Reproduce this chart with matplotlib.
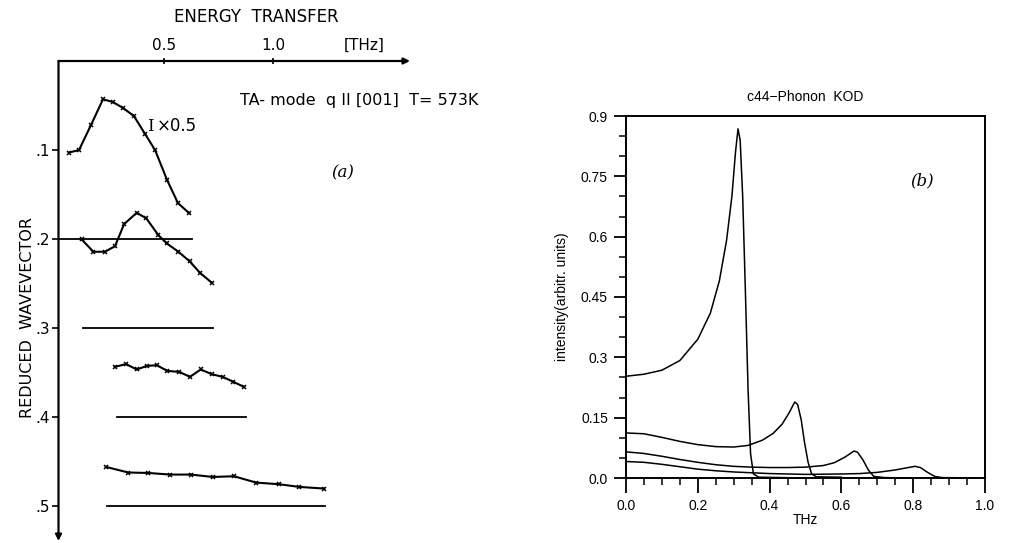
import matplotlib.pyplot as plt
from matplotlib.ticker import MultipleLocator

# ---- panel (a): scans, energy transfer [THz] vs. reduced wavevector ----
e_scan1 = [0.064, 0.110, 0.165, 0.220, 0.266, 0.312, 0.362, 0.413, 0.459, 0.514, 0.564, 0.615]
q_scan1 = [0.1028, 0.1000, 0.0719, 0.0430, 0.0461, 0.0528, 0.0618, 0.0820, 0.1000, 0.1337, 0.1596, 0.1708]

e_scan2 = [0.122, 0.176, 0.229, 0.275, 0.317, 0.375, 0.419, 0.474, 0.512, 0.566, 0.618, 0.665, 0.719]
q_scan2 = [0.2003, 0.2142, 0.2142, 0.2079, 0.1831, 0.1704, 0.1768, 0.1955, 0.2048, 0.2142, 0.2251, 0.2379, 0.2490]

e_scan4 = [0.275, 0.326, 0.375, 0.421, 0.467, 0.515, 0.570, 0.619, 0.668, 0.719, 0.769, 0.818, 0.867]
q_scan4 = [0.3434, 0.3404, 0.3464, 0.3424, 0.3416, 0.3480, 0.3491, 0.3547, 0.3464, 0.3517, 0.3547, 0.3603, 0.3660]

e_scan5 = [0.234, 0.336, 0.428, 0.528, 0.624, 0.723, 0.821, 0.922, 1.029, 1.121, 1.234]
q_scan5 = [0.4558, 0.4621, 0.4626, 0.4644, 0.4644, 0.4671, 0.4663, 0.4734, 0.4753, 0.4783, 0.4801]

base_q = [0.2, 0.3, 0.4, 0.5]
base_start = [0.016, 0.128, 0.284, 0.239]
base_end = [0.628, 0.725, 0.876, 1.239]

q_ticks = [0.1, 0.2, 0.3, 0.4, 0.5]
q_labels = ['.1', '.2', '.3', '.4', '.5']
e_ticks = [0.5, 1.0]
e_labels = ['0.5', '1.0']

# ---- panel (b): c44 phonon intensity ----
thz_1 = [0.0, 0.05, 0.10, 0.15, 0.20, 0.235, 0.26, 0.28, 0.295, 0.305, 0.312, 0.318, 0.325, 0.333, 0.340, 0.347, 0.355, 0.37, 0.5, 0.7]
int_1 = [0.253, 0.258, 0.268, 0.292, 0.345, 0.41, 0.49, 0.59, 0.70, 0.81, 0.868, 0.84, 0.70, 0.45, 0.22, 0.06, 0.01, 0.002, 0.0, 0.0]

thz_2 = [0.0, 0.05, 0.10, 0.15, 0.20, 0.25, 0.30, 0.34, 0.38, 0.41, 0.435, 0.455, 0.470, 0.478, 0.488, 0.497, 0.507, 0.517, 0.53, 0.6]
int_2 = [0.112, 0.110, 0.101, 0.091, 0.083, 0.078, 0.077, 0.081, 0.094, 0.111, 0.134, 0.163, 0.189, 0.183, 0.145, 0.090, 0.040, 0.010, 0.003, 0.002]

thz_3 = [0.0, 0.05, 0.10, 0.15, 0.20, 0.25, 0.30, 0.35, 0.40, 0.45, 0.50, 0.55, 0.58, 0.61, 0.635, 0.645, 0.66, 0.675, 0.69, 0.72, 0.8]
int_3 = [0.065, 0.061, 0.054, 0.046, 0.039, 0.033, 0.029, 0.027, 0.026, 0.026, 0.027, 0.031, 0.038, 0.052, 0.067, 0.064, 0.045, 0.020, 0.004, 0.001, 0.0]

thz_4 = [0.0, 0.05, 0.10, 0.15, 0.20, 0.25, 0.30, 0.35, 0.40, 0.50, 0.60, 0.65, 0.70, 0.75, 0.78, 0.805, 0.82, 0.84, 0.86, 0.88, 0.98]
int_4 = [0.041, 0.039, 0.034, 0.028, 0.022, 0.018, 0.015, 0.013, 0.011, 0.009, 0.010, 0.011, 0.014, 0.020, 0.025, 0.029, 0.026, 0.014, 0.004, 0.001, 0.0]

b_yticks = [0.0, 0.15, 0.3, 0.45, 0.6, 0.75, 0.9]
b_ylabels = ['0.0', '0.15', '0.3', '0.45', '0.6', '0.75', '0.9']
b_xticks = [0.0, 0.2, 0.4, 0.6, 0.8, 1.0]
b_xlabels = ['0.0', '0.2', '0.4', '0.6', '0.8', '1.0']

W, H = 1009, 543
fig = plt.figure(figsize=(W / 100, H / 100), dpi=100)

def px(x, y):
    return x / W, 1 - y / H

# ------------------------------------------------------------ panel (a)
cond = dict(family='DejaVu Sans')
ax = fig.add_axes([58.5 / W, 1 - 541 / H, (410 - 58.5) / W, (541 - 61) / H])
ax.set_xlim(0.016, 1.628)
ax.set_ylim(0.539, 0.0)
for s in ax.spines.values():
    s.set_visible(False)

ax.annotate('', xy=(1, 1), xytext=(0, 1), xycoords='axes fraction',
            arrowprops=dict(arrowstyle='-|>', color='k', lw=1.6, mutation_scale=9,
                            shrinkA=0, shrinkB=0))
ax.annotate('', xy=(0, 0), xytext=(0, 1), xycoords='axes fraction',
            arrowprops=dict(arrowstyle='-|>', color='k', lw=1.6, mutation_scale=9,
                            shrinkA=0, shrinkB=0))

ax.xaxis.tick_top()
ax.set_xticks(e_ticks, labels=e_labels)
ax.set_yticks(q_ticks, labels=q_labels)
ax.tick_params(axis='x', direction='inout', length=5, width=1.2, pad=3, labelsize=11)
ax.tick_params(axis='y', direction='out', length=5, width=1.2, pad=1, labelsize=11)

for q, a, b in zip(base_q, base_start, base_end):
    ax.plot([a, b], [q, q], color='k', lw=1.3)

for e, q in [(e_scan1, q_scan1), (e_scan2, q_scan2), (e_scan4, q_scan4), (e_scan5, q_scan5)]:
    ax.plot(e, q, color='k', lw=1.5, marker='x', ms=3.5, mew=1.1)

ax.annotate('[THz]', xy=(1.42, 1.0), xycoords=('data', 'axes fraction'),
            xytext=(0, 11), textcoords='offset points', ha='center', va='center',
            fontsize=11, **cond)
ax.text(0.42, 0.073, 'I', fontsize=12, va='center', ha='left', family='DejaVu Serif')
ax.text(0.465, 0.073, '\u00d70.5', fontsize=12, va='center', ha='left', **cond)
ax.text(1.32, 0.126, '(a)', fontsize=12, style='italic', family='DejaVu Serif',
        ha='center', va='center')

fig.text(*px(256, 17), 'ENERGY  TRANSFER', ha='center', va='center', fontsize=12, **cond)
fig.text(*px(240, 100), 'TA- mode  q II [001]  T= 573K', ha='left', va='center',
         fontsize=11.5, **cond)
fig.text(*px(28, 318), 'REDUCED  WAVEVECTOR', rotation=90, ha='center', va='center',
         fontsize=11.5, **cond)

# ------------------------------------------------------------ panel (b)
bx = fig.add_axes([626 / W, 1 - 478 / H, 359 / W, 362 / H])
for c_x, c_y in [(thz_1, int_1), (thz_2, int_2), (thz_3, int_3), (thz_4, int_4)]:
    bx.plot(c_x, c_y, color='k', lw=1.1)

bx.set_xlim(0, 1.0)
bx.set_ylim(0, 0.9)
bx.set_xticks(b_xticks, labels=b_xlabels)
bx.set_yticks(b_yticks, labels=b_ylabels)
bx.xaxis.set_minor_locator(MultipleLocator(0.05))
bx.yaxis.set_minor_locator(MultipleLocator(0.05))
bx.tick_params(which='major', direction='out', length=9, width=1.3, labelsize=10, pad=4)
bx.tick_params(which='minor', direction='out', length=5, width=1.1)
bx.tick_params(axis='x', which='major', length=11)
for s in bx.spines.values():
    s.set_linewidth(1.4)
for lab in bx.get_xticklabels() + bx.get_yticklabels():
    lab.set_family('Liberation Sans')

bx.set_title('c44\u2212Phonon  KOD', fontsize=10, family='Liberation Sans', pad=11)
bx.text(0.825, 0.738, '(b)', fontsize=12, style='italic', family='DejaVu Serif',
        ha='center', va='center')
fig.text(*px(562, 297), 'intensity(arbitr. units)', rotation=90, ha='center', va='center',
         fontsize=10, family='Liberation Sans')
fig.text(*px(805, 520), 'THz', ha='center', va='center', fontsize=10, family='Liberation Sans')

fig.savefig('out.png', dpi=100)
